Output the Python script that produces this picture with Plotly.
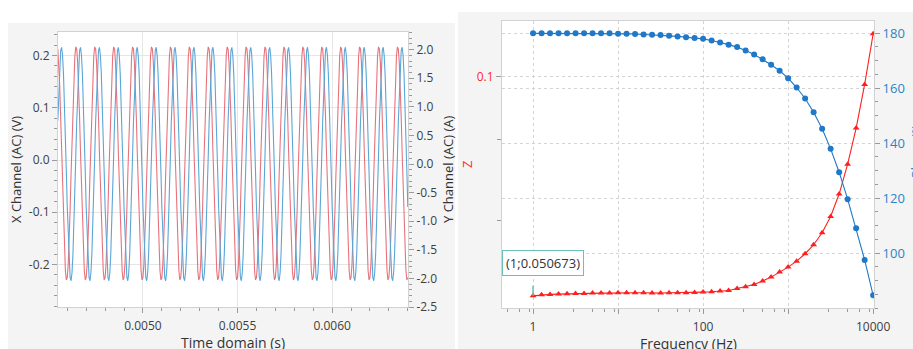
import math
import numpy as np
import plotly.graph_objects as go

W, H = 913, 349

# ---------------- time-domain data ----------------
t_start, t_stop = 0.00455, 0.0064
x_channel_v = [
    0.2122, 0.1864, 0.1417, 0.0826, 0.0147, -0.0553, -0.1204, -0.1744, -0.2120, -0.2294, -0.2250, -0.1992, -0.1545, -0.0954, -0.0275, 0.0425, 0.1076, 0.1616, 0.1992, 0.2166,
    0.2122, 0.1864, 0.1417, 0.0826, 0.0147, -0.0553, -0.1204, -0.1744, -0.2120, -0.2294, -0.2250, -0.1992, -0.1545, -0.0954, -0.0275, 0.0425, 0.1076, 0.1616, 0.1992, 0.2166,
    0.2122, 0.1864, 0.1417, 0.0826, 0.0147, -0.0553, -0.1204, -0.1744, -0.2120, -0.2294, -0.2250, -0.1992, -0.1545, -0.0954, -0.0275, 0.0425, 0.1076, 0.1616, 0.1992, 0.2166,
    0.2122, 0.1864, 0.1417, 0.0826, 0.0147, -0.0553, -0.1204, -0.1744, -0.2120, -0.2294, -0.2250, -0.1992, -0.1545, -0.0954, -0.0275, 0.0425, 0.1076, 0.1616, 0.1992, 0.2166,
    0.2122, 0.1864, 0.1417, 0.0826, 0.0147, -0.0553, -0.1204, -0.1744, -0.2120, -0.2294, -0.2250, -0.1992, -0.1545, -0.0954, -0.0275, 0.0425, 0.1076, 0.1616, 0.1992, 0.2166,
    0.2122, 0.1864, 0.1417, 0.0826, 0.0147, -0.0553, -0.1204, -0.1744, -0.2120, -0.2294, -0.2250, -0.1992, -0.1545, -0.0954, -0.0275, 0.0425, 0.1076, 0.1616, 0.1992, 0.2166,
    0.2122, 0.1864, 0.1417, 0.0826, 0.0147, -0.0553, -0.1204, -0.1744, -0.2120, -0.2294, -0.2250, -0.1992, -0.1545, -0.0954, -0.0275, 0.0425, 0.1076, 0.1616, 0.1992, 0.2166,
    0.2122, 0.1864, 0.1417, 0.0826, 0.0147, -0.0553, -0.1204, -0.1744, -0.2120, -0.2294, -0.2250, -0.1992, -0.1545, -0.0954, -0.0275, 0.0425, 0.1076, 0.1616, 0.1992, 0.2166,
    0.2122, 0.1864, 0.1417, 0.0826, 0.0147, -0.0553, -0.1204, -0.1744, -0.2120, -0.2294, -0.2250, -0.1992, -0.1545, -0.0954, -0.0275, 0.0425, 0.1076, 0.1616, 0.1992, 0.2166,
    0.2122, 0.1864, 0.1417, 0.0826, 0.0147, -0.0553, -0.1204, -0.1744, -0.2120, -0.2294, -0.2250, -0.1992, -0.1545, -0.0954, -0.0275, 0.0425, 0.1076, 0.1616, 0.1992, 0.2166,
    0.2122, 0.1864, 0.1417, 0.0826, 0.0147, -0.0553, -0.1204, -0.1744, -0.2120, -0.2294, -0.2250, -0.1992, -0.1545, -0.0954, -0.0275, 0.0425, 0.1076, 0.1616, 0.1992, 0.2166,
    0.2122, 0.1864, 0.1417, 0.0826, 0.0147, -0.0553, -0.1204, -0.1744, -0.2120, -0.2294, -0.2250, -0.1992, -0.1545, -0.0954, -0.0275, 0.0425, 0.1076, 0.1616, 0.1992, 0.2166,
    0.2122, 0.1864, 0.1417, 0.0826, 0.0147, -0.0553, -0.1204, -0.1744, -0.2120, -0.2294, -0.2250, -0.1992, -0.1545, -0.0954, -0.0275, 0.0425, 0.1076, 0.1616, 0.1992, 0.2166,
    0.2122, 0.1864, 0.1417, 0.0826, 0.0147, -0.0553, -0.1204, -0.1744, -0.2120, -0.2294, -0.2250, -0.1992, -0.1545, -0.0954, -0.0275, 0.0425, 0.1076, 0.1616, 0.1992, 0.2166,
    0.2122, 0.1864, 0.1417, 0.0826, 0.0147, -0.0553, -0.1204, -0.1744, -0.2120, -0.2294, -0.2250, -0.1992, -0.1545, -0.0954, -0.0275, 0.0425, 0.1076, 0.1616, 0.1992, 0.2166,
    0.2122, 0.1864, 0.1417, 0.0826, 0.0147, -0.0553, -0.1204, -0.1744, -0.2120, -0.2294, -0.2250, -0.1992, -0.1545, -0.0954, -0.0275, 0.0425, 0.1076, 0.1616, 0.1992, 0.2166,
    0.2122, 0.1864, 0.1417, 0.0826, 0.0147, -0.0553, -0.1204, -0.1744, -0.2120, -0.2294, -0.2250, -0.1992, -0.1545, -0.0954, -0.0275, 0.0425, 0.1076, 0.1616, 0.1992, 0.2166,
    0.2122, 0.1864, 0.1417, 0.0826, 0.0147, -0.0553, -0.1204, -0.1744, -0.2120, -0.2294, -0.2250, -0.1992, -0.1545, -0.0954, -0.0275, 0.0425, 0.1076, 0.1616, 0.1992, 0.2166,
    0.2122, 0.1864, 0.1417, 0.0826, 0.0147, -0.0553, -0.1204, -0.1744, -0.2120, -0.2294, -0.2250,
]
y_channel_a = [
    0.7528, 1.3035, 1.7266, 1.9808, 2.0410, 1.9014, 1.5757, 1.0957, 0.5086, -0.1284, -0.7528, -1.3035, -1.7266, -1.9808, -2.0410, -1.9014, -1.5757, -1.0957, -0.5086, 0.1284,
    0.7528, 1.3035, 1.7266, 1.9808, 2.0410, 1.9014, 1.5757, 1.0957, 0.5086, -0.1284, -0.7528, -1.3035, -1.7266, -1.9808, -2.0410, -1.9014, -1.5757, -1.0957, -0.5086, 0.1284,
    0.7528, 1.3035, 1.7266, 1.9808, 2.0410, 1.9014, 1.5757, 1.0957, 0.5086, -0.1284, -0.7528, -1.3035, -1.7266, -1.9808, -2.0410, -1.9014, -1.5757, -1.0957, -0.5086, 0.1284,
    0.7528, 1.3035, 1.7266, 1.9808, 2.0410, 1.9014, 1.5757, 1.0957, 0.5086, -0.1284, -0.7528, -1.3035, -1.7266, -1.9808, -2.0410, -1.9014, -1.5757, -1.0957, -0.5086, 0.1284,
    0.7528, 1.3035, 1.7266, 1.9808, 2.0410, 1.9014, 1.5757, 1.0957, 0.5086, -0.1284, -0.7528, -1.3035, -1.7266, -1.9808, -2.0410, -1.9014, -1.5757, -1.0957, -0.5086, 0.1284,
    0.7528, 1.3035, 1.7266, 1.9808, 2.0410, 1.9014, 1.5757, 1.0957, 0.5086, -0.1284, -0.7528, -1.3035, -1.7266, -1.9808, -2.0410, -1.9014, -1.5757, -1.0957, -0.5086, 0.1284,
    0.7528, 1.3035, 1.7266, 1.9808, 2.0410, 1.9014, 1.5757, 1.0957, 0.5086, -0.1284, -0.7528, -1.3035, -1.7266, -1.9808, -2.0410, -1.9014, -1.5757, -1.0957, -0.5086, 0.1284,
    0.7528, 1.3035, 1.7266, 1.9808, 2.0410, 1.9014, 1.5757, 1.0957, 0.5086, -0.1284, -0.7528, -1.3035, -1.7266, -1.9808, -2.0410, -1.9014, -1.5757, -1.0957, -0.5086, 0.1284,
    0.7528, 1.3035, 1.7266, 1.9808, 2.0410, 1.9014, 1.5757, 1.0957, 0.5086, -0.1284, -0.7528, -1.3035, -1.7266, -1.9808, -2.0410, -1.9014, -1.5757, -1.0957, -0.5086, 0.1284,
    0.7528, 1.3035, 1.7266, 1.9808, 2.0410, 1.9014, 1.5757, 1.0957, 0.5086, -0.1284, -0.7528, -1.3035, -1.7266, -1.9808, -2.0410, -1.9014, -1.5757, -1.0957, -0.5086, 0.1284,
    0.7528, 1.3035, 1.7266, 1.9808, 2.0410, 1.9014, 1.5757, 1.0957, 0.5086, -0.1284, -0.7528, -1.3035, -1.7266, -1.9808, -2.0410, -1.9014, -1.5757, -1.0957, -0.5086, 0.1284,
    0.7528, 1.3035, 1.7266, 1.9808, 2.0410, 1.9014, 1.5757, 1.0957, 0.5086, -0.1284, -0.7528, -1.3035, -1.7266, -1.9808, -2.0410, -1.9014, -1.5757, -1.0957, -0.5086, 0.1284,
    0.7528, 1.3035, 1.7266, 1.9808, 2.0410, 1.9014, 1.5757, 1.0957, 0.5086, -0.1284, -0.7528, -1.3035, -1.7266, -1.9808, -2.0410, -1.9014, -1.5757, -1.0957, -0.5086, 0.1284,
    0.7528, 1.3035, 1.7266, 1.9808, 2.0410, 1.9014, 1.5757, 1.0957, 0.5086, -0.1284, -0.7528, -1.3035, -1.7266, -1.9808, -2.0410, -1.9014, -1.5757, -1.0957, -0.5086, 0.1284,
    0.7528, 1.3035, 1.7266, 1.9808, 2.0410, 1.9014, 1.5757, 1.0957, 0.5086, -0.1284, -0.7528, -1.3035, -1.7266, -1.9808, -2.0410, -1.9014, -1.5757, -1.0957, -0.5086, 0.1284,
    0.7528, 1.3035, 1.7266, 1.9808, 2.0410, 1.9014, 1.5757, 1.0957, 0.5086, -0.1284, -0.7528, -1.3035, -1.7266, -1.9808, -2.0410, -1.9014, -1.5757, -1.0957, -0.5086, 0.1284,
    0.7528, 1.3035, 1.7266, 1.9808, 2.0410, 1.9014, 1.5757, 1.0957, 0.5086, -0.1284, -0.7528, -1.3035, -1.7266, -1.9808, -2.0410, -1.9014, -1.5757, -1.0957, -0.5086, 0.1284,
    0.7528, 1.3035, 1.7266, 1.9808, 2.0410, 1.9014, 1.5757, 1.0957, 0.5086, -0.1284, -0.7528, -1.3035, -1.7266, -1.9808, -2.0410, -1.9014, -1.5757, -1.0957, -0.5086, 0.1284,
    0.7528, 1.3035, 1.7266, 1.9808, 2.0410, 1.9014, 1.5757, 1.0957, 0.5086, -0.1284, -0.7528,
]
time_s = np.linspace(t_start, t_stop, len(x_channel_v))

time_ticks = [0.005, 0.0055, 0.006]
time_tick_text = ["0.0050", "0.0055", "0.0060"]
xch_ticks = [-0.2, -0.1, 0.0, 0.1, 0.2]
xch_tick_text = ["-0.2", "-0.1", "0.0", "0.1", "0.2"]
ych_ticks = [-2.5, -2.0, -1.5, -1.0, -0.5, 0.0, 0.5, 1.0, 1.5, 2.0]
ych_tick_text = ["-2.5", "-2.0", "-1.5", "-1.0", "-0.5", "0.0", "0.5", "1.0", "1.5", "2.0"]

# ---------------- frequency-domain data ----------------
freq_hz = [
    1, 1.259, 1.585, 1.995, 2.512, 3.162, 3.981, 5.012, 6.31, 7.943,
    10, 12.59, 15.85, 19.95, 25.12, 31.62, 39.81, 50.12, 63.1, 79.43,
    100, 125.9, 158.5, 199.5, 251.2, 316.2, 398.1, 501.2, 631, 794.3,
    1000, 1259, 1585, 1995, 2512, 3162, 3981, 5012, 6310, 7943,
    10000,
]
z_mag = [
    0.050673, 0.05084, 0.0509, 0.05095, 0.051, 0.05106, 0.05106, 0.05111, 0.05111, 0.05111,
    0.05116, 0.05116, 0.05116, 0.05116, 0.05111, 0.05111, 0.05116, 0.05116, 0.05116, 0.05121,
    0.05127, 0.05132, 0.05143, 0.05153, 0.05185, 0.05212, 0.0525, 0.05305, 0.05371, 0.05455,
    0.0554, 0.05644, 0.05775, 0.05938, 0.06163, 0.06482, 0.0695, 0.07626, 0.08528, 0.09767,
    0.11427,
]
phase_deg = [
    179.9, 179.9, 179.9, 179.9, 179.9, 179.9, 179.9, 179.9, 179.9, 179.9,
    179.8, 179.8, 179.7, 179.5, 179.4, 179.3, 179.0, 178.8, 178.5, 178.2,
    177.9, 177.3, 176.6, 175.8, 174.9, 173.7, 172.2, 170.5, 168.5, 166.3,
    163.6, 160.2, 156.2, 151.2, 145.2, 137.9, 129.4, 119.6, 109.0, 97.5,
    84.6,
]
freq_ticks = [1, 10, 100, 1000, 10000]
freq_tick_text = ["1", "", "100", "", "10000"]
freq_minor = [0.5, 0.7, 0.9, 3, 5, 7, 9, 30, 50, 70, 90, 300, 500, 700, 900,
              3000, 5000, 7000, 9000]
z_ticks = [0.1]
z_tick_text = ["0.1"]
z_minor = [0.0822, 0.0641]
phase_ticks = [100, 120, 140, 160, 180]
phase_tick_text = ["100", "120", "140", "160", "180"]
tracker_label = "(1;0.050673)"

# ---------------- helpers ----------------
def px(x):
    return x / W

def py(y):
    return 1 - y / H

FONT = "Open Sans"
TXT = "#404040"
RED_T = "#e8727c"
BLUE_T = "#5aa6d6"
RED_F = "#ff1f1f"
BLUE_F = "#1f78c8"
TEAL = "#6cc0ba"
GRID = "#e6e6e6"
AXL = "#d2d2d2"
TICKC = "#9a9a9a"

fig = go.Figure()

fig.add_trace(go.Scatter(x=time_s, y=x_channel_v, mode="lines",
                         line=dict(color=RED_T, width=1.1), xaxis="x", yaxis="y",
                         name="X Channel"))
fig.add_trace(go.Scatter(x=time_s, y=y_channel_a, mode="lines",
                         line=dict(color=BLUE_T, width=1.1), xaxis="x", yaxis="y2",
                         name="Y Channel"))
fig.add_trace(go.Scatter(x=freq_hz, y=phase_deg, mode="lines+markers",
                         line=dict(color=BLUE_F, width=1.1),
                         marker=dict(symbol="circle", size=6, color=BLUE_F),
                         xaxis="x2", yaxis="y4", name="Phase"))
fig.add_trace(go.Scatter(x=freq_hz, y=z_mag, mode="lines+markers",
                         line=dict(color=RED_F, width=1.1),
                         marker=dict(symbol="triangle-up", size=6, color=RED_F),
                         xaxis="x2", yaxis="y3", name="Z"))

tick_font = dict(family=FONT, size=12, color=TXT)

common = dict(ticks="outside", ticklen=5, tickwidth=1, tickcolor=TICKC,
              showline=True, linecolor=AXL, linewidth=1, zeroline=False)

fig.update_layout(
    width=W, height=H,
    margin=dict(l=0, r=0, t=0, b=0, autoexpand=False),
    paper_bgcolor="white", plot_bgcolor="rgba(0,0,0,0)",
    showlegend=False,
    font=dict(family=FONT, size=12, color=TXT),
    xaxis=dict(domain=[px(58), px(408)], anchor="y",
               range=[0.004551, 0.006401],
               tickvals=time_ticks, ticktext=time_tick_text, tickfont=tick_font,
               ticklabelstandoff=3,
               showgrid=True, gridcolor=GRID, mirror=True,
               minor=dict(dtick=0.0001, tick0=0.005, ticks="outside", ticklen=3,
                          tickcolor=TICKC, showgrid=False),
               **common),
    yaxis=dict(domain=[py(307), py(32)], anchor="x",
               range=[-0.2813, 0.245],
               tickvals=xch_ticks, ticktext=xch_tick_text, tickfont=tick_font,
               showgrid=True, gridcolor=GRID,
               minor=dict(dtick=0.02, tick0=0, ticks="outside", ticklen=3,
                          tickcolor=TICKC, showgrid=False),
               **common),
    yaxis2=dict(overlaying="y", side="right", anchor="x",
                range=[-2.5, 2.308],
                tickvals=ych_ticks, ticktext=ych_tick_text, tickfont=tick_font,
                showgrid=False,
                minor=dict(dtick=0.1, tick0=0, ticks="outside", ticklen=3,
                           tickcolor=TICKC, showgrid=False),
                **common),
    xaxis2=dict(domain=[px(502), px(874)], anchor="y3", type="log",
                range=[-0.365, 4.01],
                tickvals=freq_ticks, ticktext=freq_tick_text, tickfont=tick_font,
                ticklabelstandoff=3,
                showgrid=True, gridcolor="#d4d4d4", griddash="dot", mirror=True,
                minor=dict(tickvals=freq_minor, ticks="outside", ticklen=3,
                           tickcolor=TICKC, showgrid=False),
                **common),
    yaxis3=dict(domain=[py(308), py(21)], anchor="x2", type="log",
                range=[math.log10(0.0488), math.log10(0.1189)],
                tickvals=z_ticks, ticktext=z_tick_text,
                tickfont=dict(family=FONT, size=12, color="#ff2a2a"),
                showgrid=True, gridcolor="#d4d4d4", griddash="dot",
                minor=dict(tickvals=z_minor, ticks="outside", ticklen=4,
                           tickcolor=TICKC, showgrid=False),
                **common),
    yaxis4=dict(overlaying="y3", side="right", anchor="x2",
                range=[80, 184.4],
                tickvals=phase_ticks, ticktext=phase_tick_text,
                tickfont=dict(family=FONT, size=13, color="#2b84c6"),
                showgrid=True, gridcolor="#d4d4d4", griddash="dot",
                minor=dict(dtick=5, tick0=0, ticks="outside", ticklen=3,
                           tickcolor=TICKC, showgrid=False),
                **common),
)

# panel backgrounds (light grey frames) and white plot areas
shapes = [
    dict(type="rect", xref="paper", yref="paper", x0=px(8), x1=px(455), y0=0, y1=py(23),
         fillcolor="#f4f4f4", line=dict(width=0), layer="below"),
    dict(type="rect", xref="paper", yref="paper", x0=px(458), x1=1, y0=0, y1=py(12),
         fillcolor="#f4f4f4", line=dict(width=0), layer="below"),
    dict(type="rect", xref="x domain", yref="y domain", x0=0, x1=1, y0=0, y1=1,
         fillcolor="white", line=dict(width=0), layer="below"),
    dict(type="rect", xref="x2 domain", yref="y3 domain", x0=0, x1=1, y0=0, y1=1,
         fillcolor="white", line=dict(width=0), layer="below"),
]
fig.update_layout(shapes=shapes)

title_font = dict(family=FONT, size=13, color="#333333")
C = dict(xanchor="center", yanchor="middle", showarrow=False, xref="paper", yref="paper")
ann = [
    dict(text="X Channel (AC) (V)", x=px(16), y=py(170), textangle=-90, font=title_font, **C),
    dict(text="Y Channel (AC) (A)", x=px(448), y=py(170), textangle=-90, font=title_font, **C),
    dict(text="Time domain (s)", x=px(233), y=py(342),
         font=dict(family=FONT, size=14, color="#333333"), **C),
    dict(text="Z", x=px(467), y=py(165), textangle=-90,
         font=dict(family=FONT, size=13, color="#ff2a2a"), **C),
    dict(text="Frequency (Hz)", x=px(688), y=py(343),
         font=dict(family=FONT, size=14, color="#333333"), **C),
    dict(text="Phase (°)", x=px(916), y=py(152), textangle=-90,
         font=dict(family=FONT, size=13, color="#2b84c6"), **C),
    # tracker stem
    dict(text=" ", x=math.log10(freq_hz[0]), y=math.log10(z_mag[0]), xref="x2", yref="y3",
         showarrow=True, arrowhead=0, arrowwidth=1.5, arrowcolor=TEAL,
         ax=0, ay=-20, standoff=0),
    # tracker box
    dict(text=tracker_label, x=math.log10(freq_hz[0]), y=math.log10(z_mag[0]),
         xref="x2", yref="y3", showarrow=False, xanchor="center", yanchor="bottom",
         xshift=9.5, yshift=20, bgcolor="white", bordercolor=TEAL, borderwidth=1,
         borderpad=3, font=dict(family=FONT, size=13, color="#333333")),
]
fig.update_layout(annotations=ann)

fig.write_html("out.html", config={"displayModeBar": False},
               post_script="document.body.style.margin='0';document.body.style.overflow='hidden';")
